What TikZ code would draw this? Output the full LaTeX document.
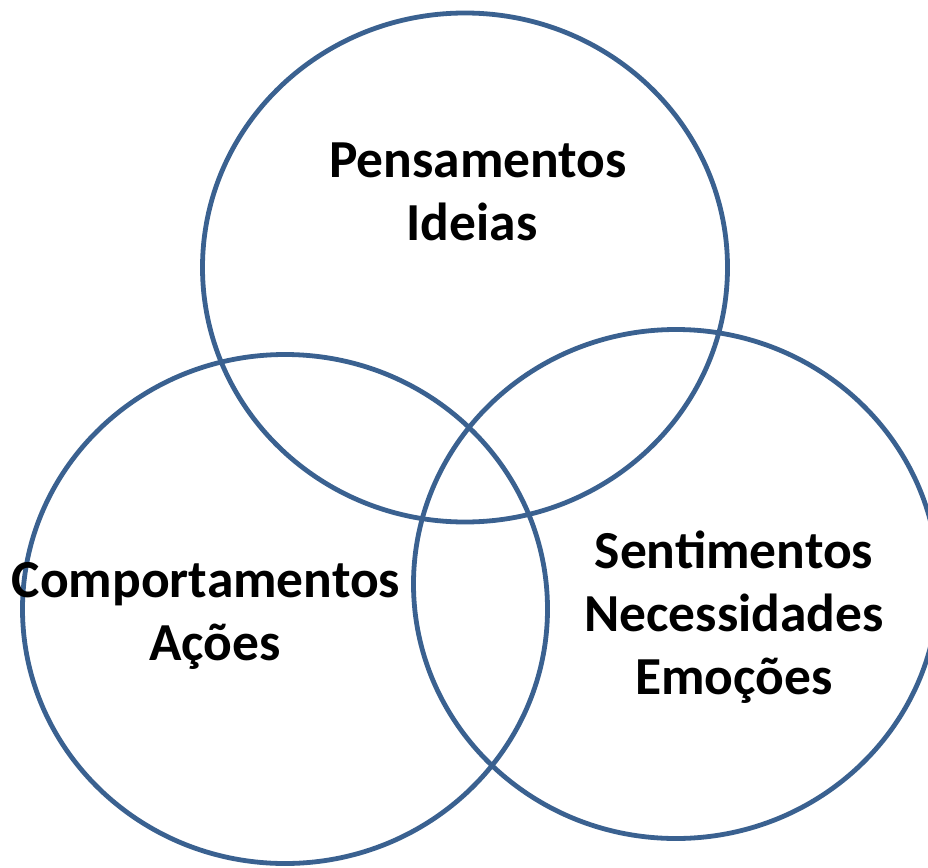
\documentclass[tikz,border=0pt]{standalone}
\usepackage{fontspec}
\setmainfont{Carlito}
\usetikzlibrary{shapes.geometric}

\definecolor{ringblue}{HTML}{3A6190}

\tikzset{
  ring/.style={draw=ringblue, line width=4.8pt, ellipse,
    minimum width=525pt, minimum height=509pt},
  tag/.style={align=center, inner sep=0pt,
    font=\fontsize{53.5pt}{63pt}\selectfont\bfseries}
}

\begin{document}
\begin{tikzpicture}[x=1pt, y=-1pt]
  \useasboundingbox (0,0) rectangle (928,867);

  \node[ring] (think) at (465,267.5) {};
  \node[ring] (act)   at (285,609)   {};
  \node[ring] (feel)  at (676,584)   {};

  \node[tag] (thinktxt) at (478,192) {Pensamentos\\\hspace*{-12pt}Ideias};
  \node[tag] (acttxt)   at (206,616) {Comportamentos\\\hspace*{18pt}Ações};
  \node[tag] (feeltxt)  at (734,617) {Sentimentos\\Necessidades\\Emoções};
\end{tikzpicture}
\end{document}
